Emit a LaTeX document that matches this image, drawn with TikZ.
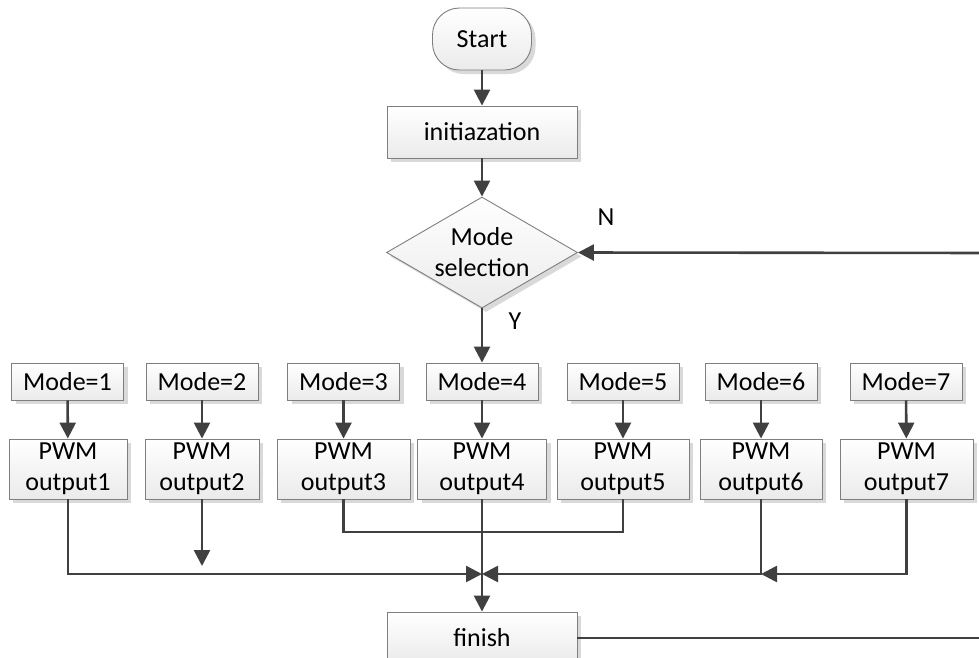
\documentclass[tikz,border=0pt]{standalone}
\usepackage{fontspec}
\setmainfont{Carlito}
\usetikzlibrary{shapes.geometric,arrows.meta,shadows}
\definecolor{ln}{HTML}{404040}
\definecolor{bd}{HTML}{7F7F7F}
\tikzset{
  box/.style={draw=bd, line width=0.9pt, shading=axis, top color=white, bottom color=black!8,
    inner sep=0pt, align=center, font=\fontsize{26}{31}\selectfont,
    drop shadow={shadow xshift=4pt, shadow yshift=-4pt, fill=black!15, opacity=1}},
  arr/.style={draw=ln, line width=2.6pt, -{Triangle[length=16pt,width=16pt]}},
  ln/.style={draw=ln, line width=2.6pt},
  lbl/.style={font=\fontsize{26}{31}\selectfont, inner sep=0pt}
}
\begin{document}
\begin{tikzpicture}[x=1pt,y=-1pt]
\clip (0,0) rectangle (979,657);
\useasboundingbox (0,0) rectangle (979,657);
\node[box, rounded corners=27pt, minimum width=99pt, minimum height=62pt] (start) at (482,39) {Start};
\node[box, minimum width=190pt, minimum height=52pt] (init) at (482,132) {initiazation};
\node[box, diamond, aspect=1.72, minimum width=191pt, minimum height=111pt] (dia) at (482,252.5) {Mode\\selection};
\foreach \i/\x in {1/67.5,2/202,3/343.5,4/482,5/623,6/761,7/906}{
  \node[box, minimum width=112pt, minimum height=37pt] (m\i) at (\x,381.5) {Mode=\i};
}
\node[box, minimum width=118pt, minimum height=60pt] (p1) at (68,469) {PWM\\output1};
\node[box, minimum width=114pt, minimum height=60pt] (p2) at (202,469) {PWM\\output2};
\node[box, minimum width=133pt, minimum height=60pt] (p3) at (343.5,469) {PWM\\output3};
\node[box, minimum width=129pt, minimum height=60pt] (p4) at (482,469) {PWM\\output4};
\node[box, minimum width=132pt, minimum height=60pt] (p5) at (623,469) {PWM\\output5};
\node[box, minimum width=122pt, minimum height=60pt] (p6) at (761,469) {PWM\\output6};
\node[box, minimum width=133pt, minimum height=60pt] (p7) at (906.5,469) {PWM\\output7};
\node[box, minimum width=190pt, minimum height=52pt] (fin) at (482,638) {finish};
\node[lbl] (n) at (606,217) {N};
\node[lbl] (y) at (515,321) {Y};
\coordinate (j35) at (482,532);
\coordinate (jc) at (482,574);
\coordinate (j6) at (761,574);
\coordinate (d2) at (202,566);
\coordinate (r1) at (1000,638);
\coordinate (r2) at (1000,253);
\draw[arr] (start) -- (init);
\draw[arr] (init) -- (dia);
\draw[arr] (dia.south) -- (m4.north);
\foreach \i in {1,...,7}{ \draw[arr] (m\i) -- (p\i); }
\draw[ln] (p3.south) |- (j35) -| (p5.south);
\draw[arr] (p4) -- (fin);
\draw[arr] (p1.south) |- (jc);
\draw[arr] (p6.south) |- (jc);
\draw[arr] (p7.south) |- (j6);
\draw[arr] (p2.south) -- (d2);
\draw[ln, line width=2pt] (fin.east) -- (r1) -- (r2);
\draw[arr] (r2) -- (dia.east);
\end{tikzpicture}
\end{document}
